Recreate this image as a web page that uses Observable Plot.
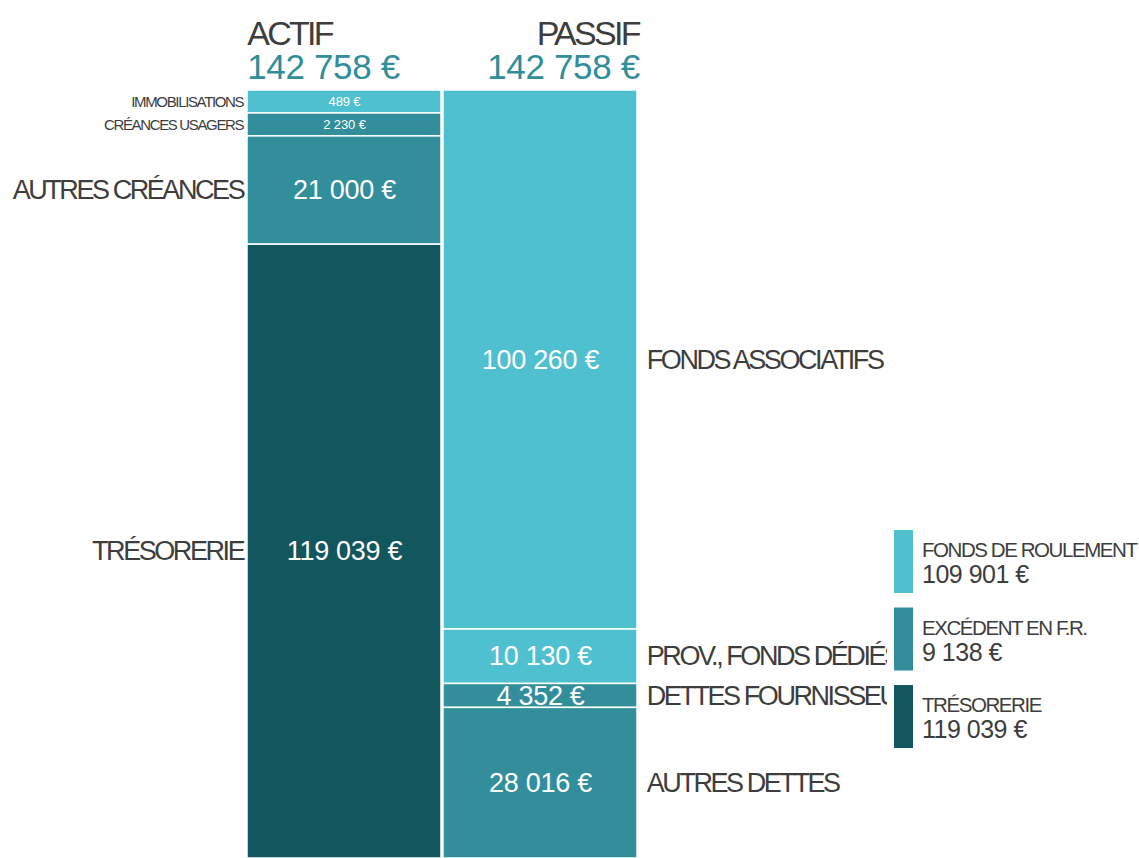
<!DOCTYPE html>
<html><head><meta charset="utf-8">
<script src="https://cdn.jsdelivr.net/npm/d3@7"></script>
<script src="https://cdn.jsdelivr.net/npm/@observablehq/plot@0.6"></script>
<style>
body{margin:0;background:#fff;font-family:"Liberation Sans",Arial,sans-serif;}
#wrap{position:relative;width:1139px;height:858px;overflow:hidden;background:#fff}
#wrap svg{display:block}
#legend{position:absolute;left:894px;top:530px}
</style></head><body><div id="wrap"></div>
<script>
// ---- data ----
const sides = ["ACTIF", "PASSIF"];
const actifLabels = ["IMMOBILISATIONS", "CRÉANCES USAGERS", "AUTRES CRÉANCES", "TRÉSORERIE"];
const actifValues = [489, 2230, 21000, 119039];
const actifGroups = ["FONDS DE ROULEMENT", "EXCÉDENT EN F.R.", "EXCÉDENT EN F.R.", "TRÉSORERIE"];
const passifLabels = ["FONDS ASSOCIATIFS", "PROV., FONDS DÉDIÉS", "DETTES FOURNISSEURS", "AUTRES DETTES"];
const passifValues = [100260, 10130, 4352, 28016];
const passifGroups = ["FONDS DE ROULEMENT", "FONDS DE ROULEMENT", "EXCÉDENT EN F.R.", "EXCÉDENT EN F.R."];
const legendLabels = ["FONDS DE ROULEMENT", "EXCÉDENT EN F.R.", "TRÉSORERIE"];
const legendValues = [109901, 9138, 119039];

// ---- styles ----
const palette = ["#4fc0d0", "#328e9a", "#12565e"];
const minShown = 4450; // smallest segments are drawn at a minimum visible size
const textColor = "#3d3d3d";
const totalColor = "#2f8e9a";

const fmt = v => d3.format(",")(v).replace(/,/g, " ") + " €";

const rows = [
  ...actifLabels.map((l, i) => ({side: "ACTIF", label: l, value: actifValues[i], group: actifGroups[i]})),
  ...passifLabels.map((l, i) => ({side: "PASSIF", label: l, value: passifValues[i], group: passifGroups[i]}))
].map(d => ({...d, shown: Math.max(d.value, minShown)}));
const totals = sides.map(s => ({side: s, total: d3.sum(rows.filter(d => d.side === s), d => d.value)}));

const xr = [247, 638], pad = 0.01;
const bw = (xr[1] - xr[0]) / (2 - pad) * (1 - pad);
const small = d => d.value < 3000;
const stack = o => Plot.stackY({offset: "normalize", x: "side", y: "shown", ...o});

const chart = Plot.plot({
  width: 1139, height: 858,
  marginTop: 90, marginBottom: 0, marginLeft: 0, marginRight: 252,
  style: {fontFamily: "'Liberation Sans', Arial, sans-serif", background: "white"},
  x: {domain: sides, range: xr, paddingInner: pad, paddingOuter: 0, axis: null},
  y: {reverse: true, axis: null},
  color: {domain: legendLabels, range: palette},
  marks: [
    Plot.barY(rows, stack({fill: "group", stroke: "white", strokeWidth: 1.5})),
    Plot.text(rows, stack({text: d => fmt(d.value), fill: "white", fontSize: d => small(d) ? 13 : 27})),
    Plot.text(rows.filter(d => d.side === "ACTIF"), stack({text: "label", textAnchor: "end", dx: -bw / 2 - 4,
      fill: textColor, fontSize: d => small(d) ? 15 : 27})),
    Plot.text(rows.filter(d => d.side === "PASSIF"), stack({text: "label", textAnchor: "start", dx: bw / 2 + 9,
      fill: textColor, fontSize: 27, clip: true})),
    Plot.text(totals.filter(d => d.side === "ACTIF"), {x: "side", text: "side", frameAnchor: "top", lineAnchor: "bottom",
      dy: -46, dx: -bw / 2, textAnchor: "start", fontSize: 34, fill: textColor}),
    Plot.text(totals.filter(d => d.side === "PASSIF"), {x: "side", text: "side", frameAnchor: "top", lineAnchor: "bottom",
      dy: -46, dx: bw / 2 + 1, textAnchor: "end", fontSize: 34, fill: textColor}),
    Plot.text(totals.filter(d => d.side === "ACTIF"), {x: "side", text: d => fmt(d.total), frameAnchor: "top", lineAnchor: "bottom",
      dy: -12, dx: -bw / 2, textAnchor: "start", fontSize: 35, fill: totalColor}),
    Plot.text(totals.filter(d => d.side === "PASSIF"), {x: "side", text: d => fmt(d.total), frameAnchor: "top", lineAnchor: "bottom",
      dy: -12, dx: bw / 2 + 2, textAnchor: "end", fontSize: 35, fill: totalColor})
  ]
});
const wrap = document.getElementById("wrap");
wrap.appendChild(chart);

// tight tracking, as in the reference typography
const catSet = new Set([...actifLabels, ...passifLabels]);
d3.select(chart).selectAll("text").each(function () {
  const t = this.textContent;
  let ls = "-0.01em";
  if (catSet.has(t)) ls = "-0.09em";
  else if (sides.includes(t)) ls = "-0.08em";
  this.style.letterSpacing = ls;
});

// ---- legend ----
const leg = d3.select(wrap).append("svg").attr("id", "legend").attr("width", 245).attr("height", 225)
  .style("font-family", "'Liberation Sans', Arial, sans-serif");
const item = leg.selectAll("g").data(legendLabels).join("g")
  .attr("transform", (d, i) => `translate(0,${i * 77.5})`);
item.append("rect").attr("width", 19).attr("height", 63).attr("fill", (d, i) => palette[i]);
item.append("text").attr("x", 28).attr("y", 27).attr("font-size", 20.5).attr("fill", textColor)
  .style("letter-spacing", "-0.07em").text(d => d);
item.append("text").attr("x", 28).attr("y", 53).attr("font-size", 25).attr("fill", textColor)
  .style("letter-spacing", "-0.02em").text((d, i) => fmt(legendValues[i]));
</script>
</body></html>
